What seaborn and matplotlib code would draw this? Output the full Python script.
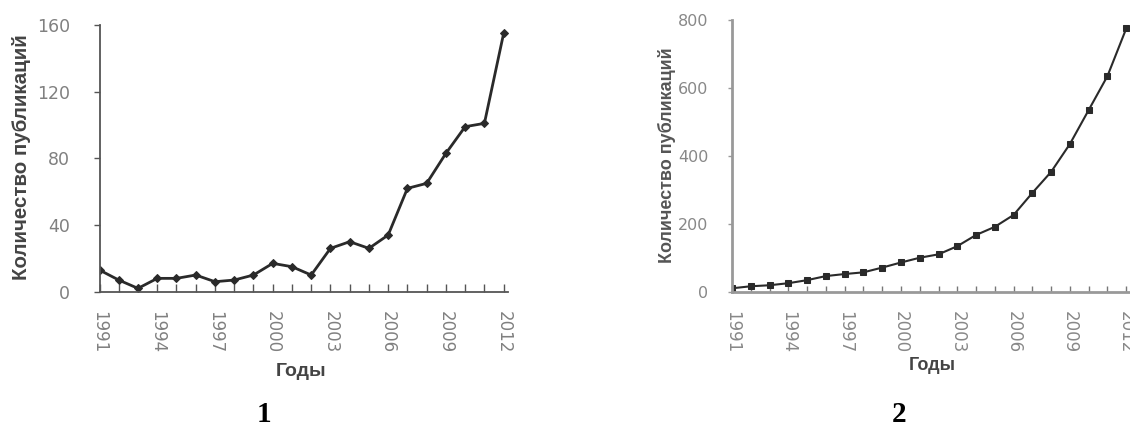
import numpy as np
import pandas as pd
import seaborn as sns
import matplotlib.pyplot as plt

# data
years = list(range(1991, 2013))
pubs_1 = [13, 7, 2, 8, 8, 10, 6, 7, 10, 17, 15, 10, 26, 30, 26, 34, 62, 65, 83, 99, 101, 155]
pubs_2 = [10, 16, 19, 25, 34, 46, 52, 57, 71, 86, 100, 110, 134, 167, 191, 226, 291, 353, 435, 535, 635, 775]
year_labels = [str(y) if (y - 1991) % 3 == 0 else '' for y in years]

ylabel = 'Количество публикаций'
xlabel = 'Годы'

sns.set_style('ticks')
plt.rcParams['font.family'] = ['DejaVu Sans']

df1 = pd.DataFrame({'year': years, 'n': pubs_1})
df2 = pd.DataFrame({'year': years, 'n': pubs_2})

W, H = 1130, 428
fig = plt.figure(figsize=(W / 100, H / 100), dpi=100)

def px(x0, y_top, x1, y_bot):
    return [x0 / W, 1 - y_bot / H, (x1 - x0) / W, (y_bot - y_top) / H]

# %% left panel
ax1 = fig.add_axes(px(99.5, 25, 507.5, 291.7))
sns.lineplot(data=df1, x='year', y='n', ax=ax1, color='#2a2a2a', lw=2,
             marker='D', markersize=4, markeredgecolor='#2a2a2a')
ax1.set(xlim=(1991, 2012.2), ylim=(0, 160), xlabel='', ylabel='')
ax1.set_yticks([0, 40, 80, 120, 160])
ax1.set_xticks(years)
ax1.set_xticklabels(year_labels)
ax1.tick_params(axis='x', direction='in', length=6, width=1, color='#555',
                labelsize=12, labelcolor='#808080', pad=14, labelrotation=270)
ax1.tick_params(axis='y', direction='out', length=4, width=1, color='#555',
                labelsize=12.5, labelcolor='#808080', pad=17)
for lab in ax1.get_xticklabels():
    lab.set_va('top')
sns.despine(ax=ax1)
for s in ['left', 'bottom']:
    ax1.spines[s].set_color('#555')
    ax1.spines[s].set_linewidth(1.3)

fig.text(22 / W, 1 - 157 / H, ylabel, rotation=90, ha='center', va='center',
         fontsize=14.8, fontweight='bold', color='#444', family='Liberation Sans')
fig.text(301 / W, 1 - 371 / H, xlabel, ha='center', va='center',
         fontsize=14, fontweight='bold', color='#444', family='Liberation Sans')
fig.text(264 / W, 1 - 414 / H, '1', ha='center', va='center',
         fontsize=21, fontweight='bold', color='black', family='Liberation Serif')

# %% right panel
ax2 = fig.add_axes(px(732, 20, 1130, 291.7))
sns.lineplot(data=df2, x='year', y='n', ax=ax2, color='#2a2a2a', lw=1.5,
             marker='s', markersize=5, markeredgecolor='#2a2a2a')
ax2.set(xlim=(1991, 2012.2), ylim=(0, 800), xlabel='', ylabel='')
ax2.set_yticks([0, 200, 400, 600, 800])
ax2.set_xticks(years)
ax2.set_xticklabels(year_labels)
ax2.tick_params(axis='x', direction='in', length=4, width=1, color='#777',
                labelsize=12, labelcolor='#888', pad=14, labelrotation=270)
ax2.tick_params(axis='y', direction='out', length=3, width=1, color='#999',
                labelsize=11.5, labelcolor='#888', pad=14)
for lab in ax2.get_xticklabels():
    lab.set_va('top')
sns.despine(ax=ax2)
for s in ['left', 'bottom']:
    ax2.spines[s].set_color('#999')
    ax2.spines[s].set_linewidth(2)

fig.text(667 / W, 1 - 155 / H, ylabel, rotation=90, ha='center', va='center',
         fontsize=13, fontweight='bold', color='#555', family='Liberation Sans')
fig.text(932 / W, 1 - 366 / H, xlabel, ha='center', va='center',
         fontsize=13, fontweight='bold', color='#444', family='Liberation Sans')
fig.text(899 / W, 1 - 414 / H, '2', ha='center', va='center',
         fontsize=21, fontweight='bold', color='black', family='Liberation Serif')

plt.savefig('out.png', dpi=100)
